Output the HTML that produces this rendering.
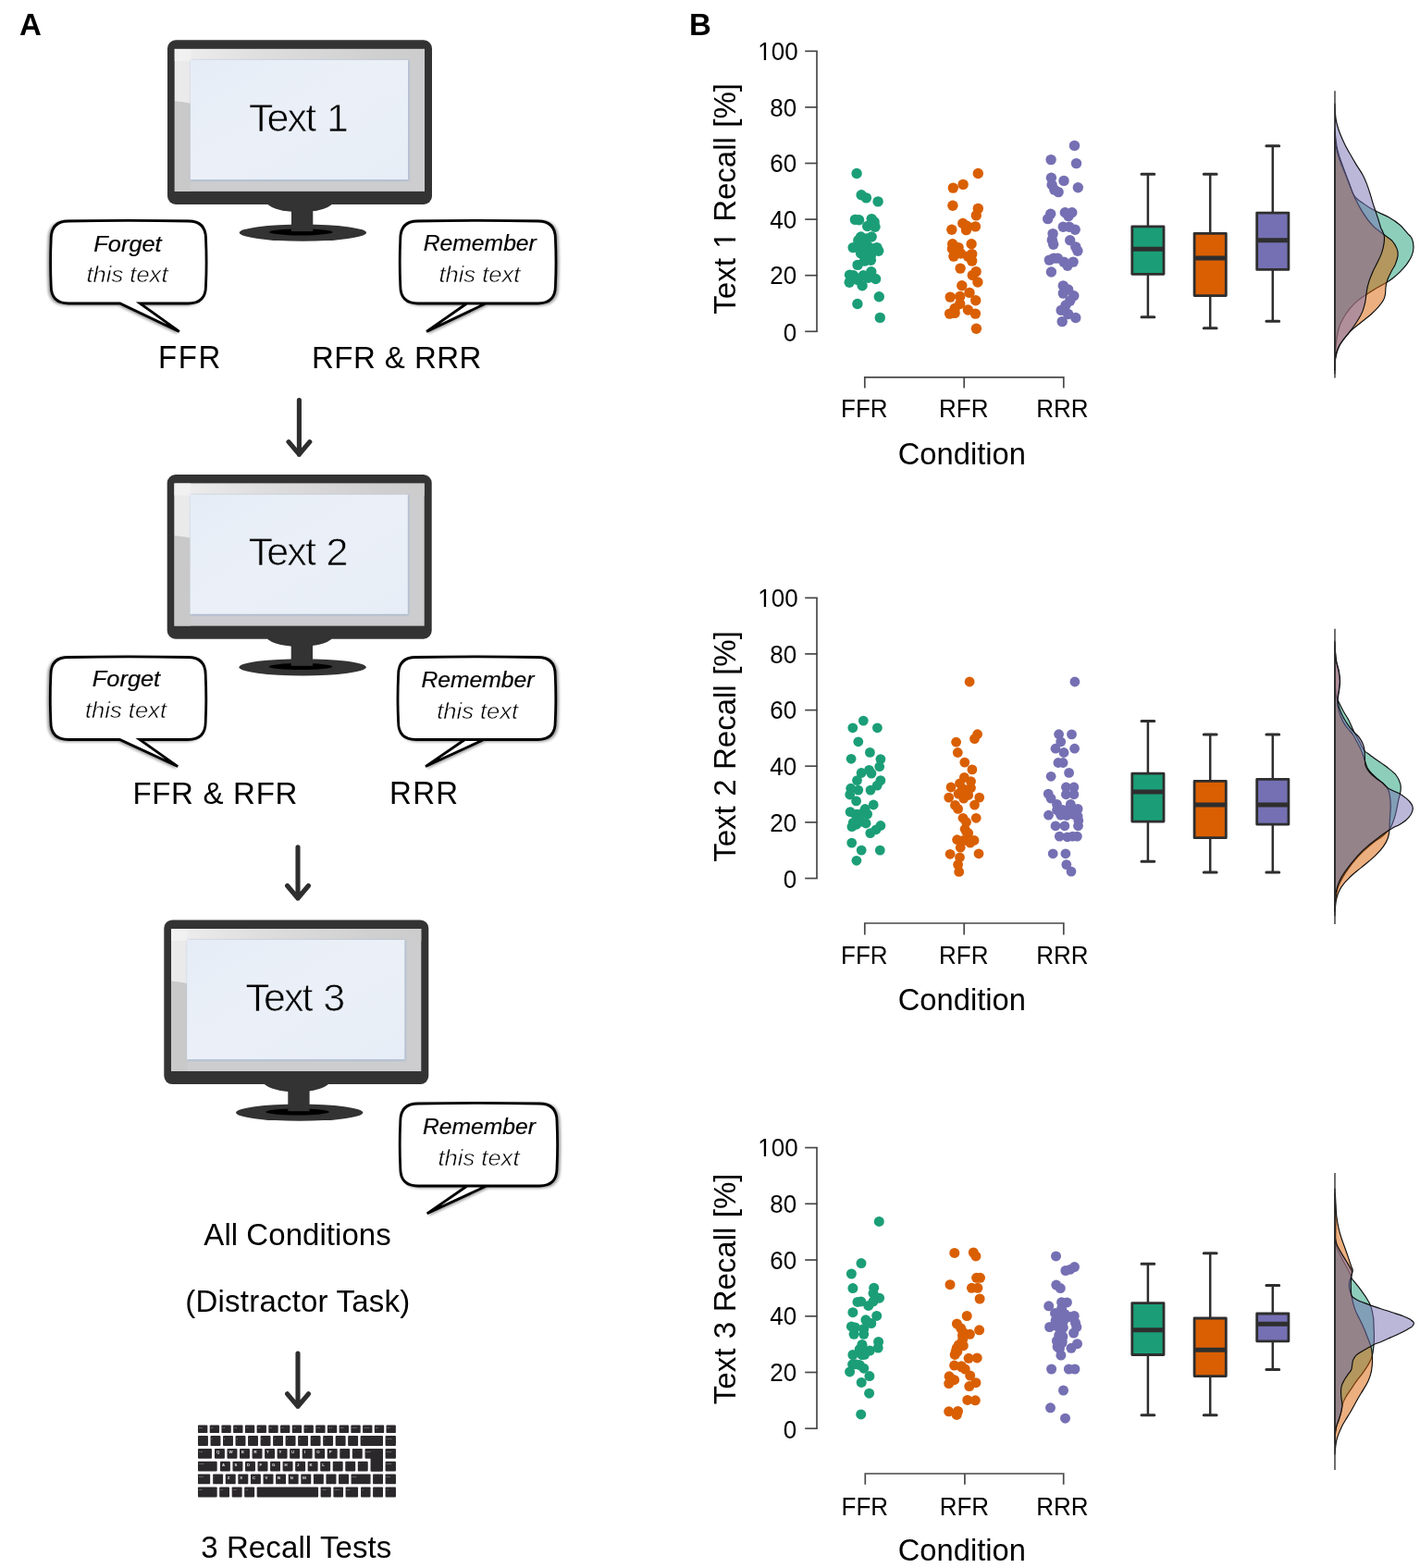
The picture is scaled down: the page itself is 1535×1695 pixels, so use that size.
<!DOCTYPE html>
<html lang="en"><head><meta charset="utf-8"><title>Figure</title>
<style>
html,body{margin:0;padding:0;background:#fff;width:1535px;height:1695px;overflow:hidden;}
svg{display:block;}
text{font-family:"Liberation Sans",sans-serif;fill:#000;font-kerning:none;}
.lt{font-size:33px;}
.tk{font-size:26px;}
.ax{stroke:#484848;stroke-width:1.7;fill:none;}
.bx{stroke:#333333;stroke-width:2.4;stroke-linejoin:round;}
.wh{stroke:#333333;stroke-width:2.4;fill:none;stroke-linecap:round;}
.md{stroke:#333333;stroke-width:5.2;fill:none;}
.dn{stroke:#0d0d0d;stroke-width:1.15;fill-opacity:0.5;stroke-linejoin:round;}
.bub{fill:#fff;stroke:#000;stroke-width:2.8;stroke-linejoin:miter;stroke-miterlimit:10;}
.bi{font-style:italic;font-size:24.5px;stroke:#fff;stroke-width:0.5px;}
.bb{font-style:italic;font-size:24.5px;stroke:#000;stroke-width:0.2px;}
.arrow{stroke:#2e2e2e;stroke-width:5.1;fill:none;stroke-linecap:round;stroke-linejoin:round;}
.key{fill:#2b282b;}
.kt{font-size:4.3px;font-weight:bold;fill:#e6e6e6;}
.ks{font-size:2.3px;fill:#d8d8d8;fill-opacity:0.75;}
</style></head><body>
<svg width="1535" height="1695" viewBox="0 0 1535 1695" role="img" aria-label="Experimental procedure and recall results">
<defs>
<linearGradient id="scr" x1="0" y1="0" x2="1" y2="0">
<stop offset="0" stop-color="#efefef"/><stop offset="0.35" stop-color="#dedede"/><stop offset="0.8" stop-color="#d0d0d1"/><stop offset="1" stop-color="#cccccd"/>
</linearGradient>
<linearGradient id="pap" x1="0" y1="0" x2="1" y2="1">
<stop offset="0" stop-color="#e6ecf6"/><stop offset="0.5" stop-color="#ebf0f8"/><stop offset="1" stop-color="#e7edf6"/>
</linearGradient>
<filter id="pb" x="-5%" y="-5%" width="110%" height="110%"><feGaussianBlur stdDeviation="0.9"/></filter>
<filter id="shL" x="-10%" y="-10%" width="120%" height="130%">
<feGaussianBlur in="SourceAlpha" stdDeviation="1.8"/><feOffset dx="-1.6" dy="1.4" result="b"/>
<feComponentTransfer><feFuncA type="linear" slope="0.4"/></feComponentTransfer>
<feMerge><feMergeNode/><feMergeNode in="SourceGraphic"/></feMerge>
</filter>
<filter id="shR" x="-10%" y="-10%" width="120%" height="130%">
<feGaussianBlur in="SourceAlpha" stdDeviation="1.8"/><feOffset dx="1.6" dy="1.4" result="b"/>
<feComponentTransfer><feFuncA type="linear" slope="0.4"/></feComponentTransfer>
<feMerge><feMergeNode/><feMergeNode in="SourceGraphic"/></feMerge>
</filter>
</defs>
<rect width="1535" height="1695" fill="#fff"/>

<text x="21.0" y="37.6" style="font-weight:bold;font-size:33px">A</text>
<text x="745.0" y="37.6" style="font-weight:bold;font-size:33px">B</text>
<g transform="translate(0,0)">
<ellipse cx="327.4" cy="251.6" rx="68.6" ry="9.1" fill="#333333"/>
<ellipse cx="325.3" cy="250.9" rx="34.3" ry="3.5" fill="#000"/>
<ellipse cx="324.1" cy="217" rx="36.5" ry="12.3" fill="#333333"/>
<rect x="315" y="221" width="23.3" height="29.1" fill="#333333"/>
<rect x="181" y="43.3" width="286" height="177.7" rx="9" ry="9" fill="#333333"/>
<rect x="188.8" y="52.9" width="270.2" height="154" fill="#cdcdcf"/>
<rect x="188.8" y="52.9" width="270.2" height="13" fill="url(#scr)"/>
<path d="M188.8 109.3 Q198 110.2 206.2 111.8 V206.9 H188.8 Z" fill="#c9c9ca"/>
<path d="M188.8 52.9 H206.2 V111.8 Q198 110.2 188.8 109.3 Z" fill="#f1f1f1" opacity="0.8"/>
<rect x="206.4" y="65.2" width="235.6" height="130" fill="#9fb4cf" filter="url(#pb)"/>
<rect x="205.8" y="64.9" width="235.3" height="129.2" fill="url(#pap)"/>
<text x="269.0" y="141.7" style="font-size:43px;font-kerning:normal;stroke:#e9eef7;stroke-width:0.75px;letter-spacing:-1.9px;word-spacing:2.6px">Text 1</text>
</g>
<g transform="translate(-0.3,469.7)">
<ellipse cx="327.4" cy="251.6" rx="68.6" ry="9.1" fill="#333333"/>
<ellipse cx="325.3" cy="250.9" rx="34.3" ry="3.5" fill="#000"/>
<ellipse cx="324.1" cy="217" rx="36.5" ry="12.3" fill="#333333"/>
<rect x="315" y="221" width="23.3" height="29.1" fill="#333333"/>
<rect x="181" y="43.3" width="286" height="177.7" rx="9" ry="9" fill="#333333"/>
<rect x="188.8" y="52.9" width="270.2" height="154" fill="#cdcdcf"/>
<rect x="188.8" y="52.9" width="270.2" height="13" fill="url(#scr)"/>
<path d="M188.8 109.3 Q198 110.2 206.2 111.8 V206.9 H188.8 Z" fill="#c9c9ca"/>
<path d="M188.8 52.9 H206.2 V111.8 Q198 110.2 188.8 109.3 Z" fill="#f1f1f1" opacity="0.8"/>
<rect x="206.4" y="65.2" width="235.6" height="130" fill="#9fb4cf" filter="url(#pb)"/>
<rect x="205.8" y="64.9" width="235.3" height="129.2" fill="url(#pap)"/>
<text x="269.0" y="141.7" style="font-size:43px;font-kerning:normal;stroke:#e9eef7;stroke-width:0.75px;letter-spacing:-1.9px;word-spacing:2.6px">Text 2</text>
</g>
<g transform="translate(-3.7,951.1)">
<ellipse cx="327.4" cy="251.6" rx="68.6" ry="9.1" fill="#333333"/>
<ellipse cx="325.3" cy="250.9" rx="34.3" ry="3.5" fill="#000"/>
<ellipse cx="324.1" cy="217" rx="36.5" ry="12.3" fill="#333333"/>
<rect x="315" y="221" width="23.3" height="29.1" fill="#333333"/>
<rect x="181" y="43.3" width="286" height="177.7" rx="9" ry="9" fill="#333333"/>
<rect x="188.8" y="52.9" width="270.2" height="154" fill="#cdcdcf"/>
<rect x="188.8" y="52.9" width="270.2" height="13" fill="url(#scr)"/>
<path d="M188.8 109.3 Q198 110.2 206.2 111.8 V206.9 H188.8 Z" fill="#c9c9ca"/>
<path d="M188.8 52.9 H206.2 V111.8 Q198 110.2 188.8 109.3 Z" fill="#f1f1f1" opacity="0.8"/>
<rect x="206.4" y="65.2" width="235.6" height="130" fill="#9fb4cf" filter="url(#pb)"/>
<rect x="205.8" y="64.9" width="235.3" height="129.2" fill="url(#pap)"/>
<text x="269.0" y="141.7" style="font-size:43px;font-kerning:normal;stroke:#e9eef7;stroke-width:0.75px;letter-spacing:-1.9px;word-spacing:2.6px">Text 3</text>
</g>
<path class="bub" filter="url(#shL)" d="M74.2 239 Q138.85 237.8 203.5 239 Q222.5 239 222.5 258 Q223.7 283.5 222.5 309 Q222.5 328 203.5 328 L151.2 328 L193.8 358.4 L129.7 328 L74.2 328 Q55.2 328 55.2 309 Q54.0 283.5 55.2 258 Q55.2 239 74.2 239 Z"/>
<text class="bb" x="138" y="271.8" text-anchor="middle" textLength="73.3" lengthAdjust="spacingAndGlyphs">Forget</text>
<text class="bi" x="137.5" y="305.4" text-anchor="middle" textLength="88" lengthAdjust="spacingAndGlyphs">this text</text>
<path class="bub" filter="url(#shR)" d="M451.8 239 Q516.6 237.8 581.4 239 Q600.4 239 600.4 258 Q601.6 283.5 600.4 309 Q600.4 328 581.4 328 L504.7 328 L461.1 358.4 L525.2 328 L451.8 328 Q432.8 328 432.8 309 Q431.6 283.5 432.8 258 Q432.8 239 451.8 239 Z"/>
<text class="bb" x="518.8" y="271.4" text-anchor="middle" textLength="122" lengthAdjust="spacingAndGlyphs">Remember</text>
<text class="bi" x="518.4" y="305.0" text-anchor="middle" textLength="88" lengthAdjust="spacingAndGlyphs">this text</text>
<path class="bub" filter="url(#shL)" d="M73.9 710.5 Q138.54999999999998 709.3 203.2 710.5 Q222.2 710.5 222.2 729.5 Q223.39999999999998 755.0 222.2 780.5 Q222.2 799.5 203.2 799.5 L150.9 799.5 L192.2 828.6 L129.4 799.5 L73.9 799.5 Q54.9 799.5 54.9 780.5 Q53.699999999999996 755.0 54.9 729.5 Q54.9 710.5 73.9 710.5 Z"/>
<text class="bb" x="136.5" y="742.3" text-anchor="middle" textLength="73.3" lengthAdjust="spacingAndGlyphs">Forget</text>
<text class="bi" x="136" y="775.9" text-anchor="middle" textLength="88" lengthAdjust="spacingAndGlyphs">this text</text>
<path class="bub" filter="url(#shR)" d="M449.6 710.5 Q515.4000000000001 709.3 581.2 710.5 Q600.2 710.5 600.2 729.5 Q601.4000000000001 755.0 600.2 780.5 Q600.2 799.5 581.2 799.5 L502.5 799.5 L460 828.6 L523 799.5 L449.6 799.5 Q430.6 799.5 430.6 780.5 Q429.40000000000003 755.0 430.6 729.5 Q430.6 710.5 449.6 710.5 Z"/>
<text class="bb" x="516.5" y="742.9" text-anchor="middle" textLength="122" lengthAdjust="spacingAndGlyphs">Remember</text>
<text class="bi" x="516.2" y="776.5" text-anchor="middle" textLength="88" lengthAdjust="spacingAndGlyphs">this text</text>
<path class="bub" filter="url(#shR)" d="M451.8 1193 Q517.4 1191.8 583 1193 Q602 1193 602 1212 Q603.2 1237.5 602 1263 Q602 1282 583 1282 L505 1282 L461.7 1311.8 L526 1282 L451.8 1282 Q432.8 1282 432.8 1263 Q431.6 1237.5 432.8 1212 Q432.8 1193 451.8 1193 Z"/>
<text class="bb" x="518" y="1226" text-anchor="middle" textLength="122" lengthAdjust="spacingAndGlyphs">Remember</text>
<text class="bi" x="517.5" y="1259.5" text-anchor="middle" textLength="88" lengthAdjust="spacingAndGlyphs">this text</text>
<text class="lt" transform="translate(171.09,397.8) scale(1,1.04)" style="font-kerning:normal;letter-spacing:1.508px">FFR</text>
<text class="lt" x="337.09" y="397.8" style="font-kerning:normal;letter-spacing:0.451px">RFR &amp; RRR</text>
<text class="lt" x="143.41" y="869.3" style="font-kerning:normal;letter-spacing:0.701px">FFR &amp; RFR</text>
<text class="lt" transform="translate(421.09,869.3) scale(1,1.04)" style="font-kerning:normal;letter-spacing:1.253px">RRR</text>
<text class="lt" x="220.33" y="1346.4" style="font-kerning:normal;letter-spacing:0.050px">All Conditions</text>
<text class="lt" x="200.33" y="1417.8" style="font-kerning:normal;letter-spacing:0.209px">(Distractor Task)</text>
<text class="lt" x="217.21" y="1683.8" style="font-kerning:normal;letter-spacing:0.103px">3 Recall Tests</text>
<path class="arrow" d="M323.4 432.6 V491.2 M312.0 477.7 L323.4 491.2 L334.79999999999995 477.7"/>
<path class="arrow" d="M322 915.6999999999999 V971 M310.6 957.5 L322 971 L333.4 957.5"/>
<path class="arrow" d="M322 1463.1 V1520.3 M310.6 1506.8 L322 1520.3 L333.4 1506.8"/>
<g class="key"><rect x="213.99" y="1540.49" width="10.34" height="8.54" rx="0.9"/><rect x="226.71" y="1540.49" width="10.34" height="8.54" rx="0.9"/><rect x="239.43" y="1540.49" width="10.34" height="8.54" rx="0.9"/><rect x="252.15" y="1540.49" width="10.34" height="8.54" rx="0.9"/><rect x="264.87" y="1540.49" width="10.34" height="8.54" rx="0.9"/><rect x="277.60" y="1540.49" width="10.34" height="8.54" rx="0.9"/><rect x="290.32" y="1540.49" width="10.34" height="8.54" rx="0.9"/><rect x="303.04" y="1540.49" width="10.34" height="8.54" rx="0.9"/><rect x="315.76" y="1540.49" width="10.34" height="8.54" rx="0.9"/><rect x="328.48" y="1540.49" width="10.34" height="8.54" rx="0.9"/><rect x="341.20" y="1540.49" width="10.34" height="8.54" rx="0.9"/><rect x="353.92" y="1540.49" width="10.34" height="8.54" rx="0.9"/><rect x="366.64" y="1540.49" width="10.34" height="8.54" rx="0.9"/><rect x="379.36" y="1540.49" width="10.34" height="8.54" rx="0.9"/><rect x="392.08" y="1540.49" width="10.34" height="8.54" rx="0.9"/><rect x="404.81" y="1540.49" width="10.34" height="8.54" rx="0.9"/><rect x="417.53" y="1540.49" width="10.34" height="8.54" rx="0.9"/><rect x="213.99" y="1552.03" width="10.94" height="10.94" rx="0.9"/><rect x="227.51" y="1552.03" width="10.94" height="10.94" rx="0.9"/><rect x="241.02" y="1552.03" width="10.94" height="10.94" rx="0.9"/><rect x="254.54" y="1552.03" width="10.94" height="10.94" rx="0.9"/><rect x="268.05" y="1552.03" width="10.94" height="10.94" rx="0.9"/><rect x="281.57" y="1552.03" width="10.94" height="10.94" rx="0.9"/><rect x="295.08" y="1552.03" width="10.94" height="10.94" rx="0.9"/><rect x="308.60" y="1552.03" width="10.94" height="10.94" rx="0.9"/><rect x="322.11" y="1552.03" width="10.94" height="10.94" rx="0.9"/><rect x="335.63" y="1552.03" width="10.94" height="10.94" rx="0.9"/><rect x="349.14" y="1552.03" width="10.94" height="10.94" rx="0.9"/><rect x="362.66" y="1552.03" width="10.94" height="10.94" rx="0.9"/><rect x="376.17" y="1552.03" width="10.94" height="10.94" rx="0.9"/><rect x="389.60" y="1552.03" width="24.42" height="10.94" rx="0.9"/><rect x="416.57" y="1552.03" width="11.39" height="10.94" rx="0.9"/><rect x="213.99" y="1565.96" width="14.98" height="10.79" rx="0.9"/><rect x="231.97" y="1565.96" width="10.94" height="10.79" rx="0.9"/><rect x="245.50" y="1565.96" width="10.94" height="10.79" rx="0.9"/><rect x="259.03" y="1565.96" width="10.94" height="10.79" rx="0.9"/><rect x="272.56" y="1565.96" width="10.94" height="10.79" rx="0.9"/><rect x="286.09" y="1565.96" width="10.94" height="10.79" rx="0.9"/><rect x="299.62" y="1565.96" width="10.94" height="10.79" rx="0.9"/><rect x="313.15" y="1565.96" width="10.94" height="10.79" rx="0.9"/><rect x="326.68" y="1565.96" width="10.94" height="10.79" rx="0.9"/><rect x="340.21" y="1565.96" width="10.94" height="10.79" rx="0.9"/><rect x="353.74" y="1565.96" width="10.94" height="10.79" rx="0.9"/><rect x="367.27" y="1565.96" width="10.94" height="10.79" rx="0.9"/><rect x="380.80" y="1565.96" width="10.94" height="10.79" rx="0.9"/><rect x="394.54" y="1565.96" width="19.48" height="10.79" rx="0.9"/><rect x="400.53" y="1574.95" width="13.49" height="15.73" rx="0.9"/><rect x="416.57" y="1565.96" width="11.39" height="10.79" rx="0.9"/><rect x="213.99" y="1579.75" width="20.68" height="10.64" rx="0.9"/><rect x="237.96" y="1579.75" width="10.94" height="10.64" rx="0.9"/><rect x="251.49" y="1579.75" width="10.94" height="10.64" rx="0.9"/><rect x="265.02" y="1579.75" width="10.94" height="10.64" rx="0.9"/><rect x="278.55" y="1579.75" width="10.94" height="10.64" rx="0.9"/><rect x="292.08" y="1579.75" width="10.94" height="10.64" rx="0.9"/><rect x="305.61" y="1579.75" width="10.94" height="10.64" rx="0.9"/><rect x="319.14" y="1579.75" width="10.94" height="10.64" rx="0.9"/><rect x="332.67" y="1579.75" width="10.94" height="10.64" rx="0.9"/><rect x="346.20" y="1579.75" width="10.94" height="10.64" rx="0.9"/><rect x="359.73" y="1579.75" width="10.94" height="10.64" rx="0.9"/><rect x="373.26" y="1579.75" width="10.94" height="10.64" rx="0.9"/><rect x="386.80" y="1579.75" width="10.94" height="10.64" rx="0.9"/><rect x="416.57" y="1579.75" width="11.39" height="10.64" rx="0.9"/><rect x="213.99" y="1593.38" width="13.19" height="10.94" rx="0.9"/><rect x="230.17" y="1593.38" width="10.94" height="10.94" rx="0.9"/><rect x="243.76" y="1593.38" width="10.94" height="10.94" rx="0.9"/><rect x="257.35" y="1593.38" width="10.94" height="10.94" rx="0.9"/><rect x="270.94" y="1593.38" width="10.94" height="10.94" rx="0.9"/><rect x="284.53" y="1593.38" width="10.94" height="10.94" rx="0.9"/><rect x="298.12" y="1593.38" width="10.94" height="10.94" rx="0.9"/><rect x="311.71" y="1593.38" width="10.94" height="10.94" rx="0.9"/><rect x="325.30" y="1593.38" width="10.94" height="10.94" rx="0.9"/><rect x="338.89" y="1593.38" width="10.94" height="10.94" rx="0.9"/><rect x="352.48" y="1593.38" width="10.94" height="10.94" rx="0.9"/><rect x="366.07" y="1593.38" width="10.94" height="10.94" rx="0.9"/><rect x="379.56" y="1593.38" width="20.98" height="10.94" rx="0.9"/><rect x="403.08" y="1593.38" width="10.94" height="10.94" rx="0.9"/><rect x="416.57" y="1593.38" width="11.39" height="10.94" rx="0.9"/><rect x="213.99" y="1607.46" width="20.68" height="10.94" rx="0.9"/><rect x="237.21" y="1607.46" width="10.79" height="10.94" rx="0.9"/><rect x="250.70" y="1607.46" width="10.94" height="10.94" rx="0.9"/><rect x="264.18" y="1607.46" width="10.94" height="10.94" rx="0.9"/><rect x="277.67" y="1607.46" width="66.38" height="10.94" rx="0.9"/><rect x="346.59" y="1607.46" width="11.24" height="10.94" rx="0.9"/><rect x="360.38" y="1607.46" width="10.64" height="10.94" rx="0.9"/><rect x="373.56" y="1607.46" width="13.49" height="10.94" rx="0.9"/><rect x="390.05" y="1607.46" width="10.49" height="10.94" rx="0.9"/><rect x="403.08" y="1607.46" width="10.94" height="10.94" rx="0.9"/><rect x="416.57" y="1607.46" width="11.39" height="10.94" rx="0.9"/></g>
<g><text class="ks" x="215.04" y="1544.08">Esc</text><text class="ks" x="227.76" y="1544.08">F1</text><text class="ks" x="240.48" y="1544.08">F2</text><text class="ks" x="253.20" y="1544.08">F3</text><text class="ks" x="265.92" y="1544.08">F4</text><text class="ks" x="278.64" y="1544.08">F5</text><text class="ks" x="291.36" y="1544.08">F6</text><text class="ks" x="304.09" y="1544.08">F7</text><text class="ks" x="316.81" y="1544.08">F8</text><text class="ks" x="329.53" y="1544.08">F9</text><text class="ks" x="342.25" y="1544.08">F10</text><text class="ks" x="354.97" y="1544.08">F11</text><text class="ks" x="367.69" y="1544.08">F12</text><text class="ks" x="380.41" y="1544.08">PrtSc</text><text class="ks" x="393.13" y="1544.08">Pause</text><text class="ks" x="405.85" y="1544.08">Ins</text><text class="ks" x="418.58" y="1544.08">Del</text><text class="ks" x="215.04" y="1555.62">`</text><text class="ks" x="228.55" y="1555.62">1</text><text class="ks" x="242.07" y="1555.62">2</text><text class="ks" x="255.58" y="1555.62">3</text><text class="ks" x="269.10" y="1555.62">4</text><text class="ks" x="282.61" y="1555.62">5</text><text class="ks" x="296.13" y="1555.62">6</text><text class="ks" x="309.64" y="1555.62">7</text><text class="ks" x="323.16" y="1555.62">8</text><text class="ks" x="336.68" y="1555.62">9</text><text class="ks" x="350.19" y="1555.62">0</text><text class="ks" x="363.71" y="1555.62">-</text><text class="ks" x="377.22" y="1555.62">=</text><text class="ks" x="390.65" y="1555.62">←</text><text class="ks" x="417.62" y="1555.62">Home</text><text class="ks" x="215.04" y="1569.56">Tab</text><text class="kt" x="233.92" y="1571.35">Q</text><text class="kt" x="247.45" y="1571.35">W</text><text class="kt" x="260.98" y="1571.35">E</text><text class="kt" x="274.51" y="1571.35">R</text><text class="kt" x="288.04" y="1571.35">T</text><text class="kt" x="301.57" y="1571.35">Y</text><text class="kt" x="315.10" y="1571.35">U</text><text class="kt" x="328.63" y="1571.35">I</text><text class="kt" x="342.16" y="1571.35">O</text><text class="kt" x="355.69" y="1571.35">P</text><text class="ks" x="368.32" y="1569.56">[</text><text class="ks" x="381.85" y="1569.56">]</text><text class="ks" x="395.59" y="1569.56">Enter</text><text class="ks" x="417.62" y="1569.56">PgUp</text><text class="ks" x="215.04" y="1583.34">Caps</text><text class="kt" x="239.91" y="1585.14">A</text><text class="kt" x="253.44" y="1585.14">S</text><text class="kt" x="266.97" y="1585.14">D</text><text class="kt" x="280.50" y="1585.14">F</text><text class="kt" x="294.03" y="1585.14">G</text><text class="kt" x="307.56" y="1585.14">H</text><text class="kt" x="321.09" y="1585.14">J</text><text class="kt" x="334.62" y="1585.14">K</text><text class="kt" x="348.15" y="1585.14">L</text><text class="ks" x="360.78" y="1583.34">;</text><text class="ks" x="374.31" y="1583.34">'</text><text class="ks" x="387.84" y="1583.34">#</text><text class="ks" x="417.62" y="1583.34">PgDn</text><text class="ks" x="215.04" y="1596.98">Shift</text><text class="ks" x="231.22" y="1596.98">\</text><text class="kt" x="245.71" y="1598.77">Z</text><text class="kt" x="259.30" y="1598.77">X</text><text class="kt" x="272.89" y="1598.77">C</text><text class="kt" x="286.48" y="1598.77">V</text><text class="kt" x="300.07" y="1598.77">B</text><text class="kt" x="313.66" y="1598.77">N</text><text class="kt" x="327.25" y="1598.77">M</text><text class="ks" x="339.94" y="1596.98">,</text><text class="ks" x="353.53" y="1596.98">.</text><text class="ks" x="367.12" y="1596.98">/</text><text class="ks" x="380.61" y="1596.98">Shift</text><text class="ks" x="404.13" y="1596.98">↑</text><text class="ks" x="417.62" y="1596.98">End</text><text class="ks" x="215.04" y="1611.06">Ctrl</text><text class="ks" x="238.26" y="1611.06">Fn</text><text class="ks" x="251.75" y="1611.06">Win</text><text class="ks" x="265.23" y="1611.06">Alt</text><text class="ks" x="347.64" y="1611.06">AltGr</text><text class="ks" x="361.43" y="1611.06">Menu</text><text class="ks" x="374.61" y="1611.06">Ctrl</text><text class="ks" x="391.10" y="1611.06">←</text><text class="ks" x="404.13" y="1611.06">↓</text><text class="ks" x="417.62" y="1611.06">→</text></g>
<path class="ax" d="M883.0 55.3 V358.3"/>
<path class="ax" d="M870.2 358.3 H883.8"/>
<text class="tk" transform="translate(861.1,368.80) scale(1,1.045)" text-anchor="end">0</text>
<path class="ax" d="M870.2 297.7 H883.8"/>
<text class="tk" transform="translate(861.1,307.40) scale(1,1.045)" text-anchor="end">20</text>
<path class="ax" d="M870.2 237.1 H883.8"/>
<text class="tk" transform="translate(861.1,246.80) scale(1,1.045)" text-anchor="end">40</text>
<path class="ax" d="M870.2 176.5 H883.8"/>
<text class="tk" transform="translate(861.1,186.20) scale(1,1.045)" text-anchor="end">60</text>
<path class="ax" d="M870.2 115.9 H883.8"/>
<text class="tk" transform="translate(861.1,125.60) scale(1,1.045)" text-anchor="end">80</text>
<path class="ax" d="M870.2 55.3 H883.8"/>
<text class="tk" transform="translate(862.7,64.55) scale(1,1.045)" text-anchor="end">100</text>
<text class="lt" transform="translate(794.7,214.8) rotate(-90)" text-anchor="middle" style="font-kerning:normal;word-spacing:1.3px">Text 1 Recall [%]</text>
<path class="ax" d="M934.8 419.5 V407.8 H1149.8 V419.5 M1042.2 407.8 V419.5"/>
<text class="tk" transform="translate(934.30,451.40000000000003) scale(1,1.04)" text-anchor="middle">FFR</text>
<text class="tk" transform="translate(1041.70,451.40000000000003) scale(1,1.04)" text-anchor="middle">RFR</text>
<text class="tk" transform="translate(1148.40,451.40000000000003) scale(1,1.04)" text-anchor="middle">RRR</text>
<text class="lt" x="1039.8" y="501.6" text-anchor="middle" style="font-size:32.7px">Condition</text>
<path class="ax" d="M883.0 646.3 V949.5"/>
<path class="ax" d="M870.2 949.5 H883.8"/>
<text class="tk" transform="translate(861.1,960.00) scale(1,1.045)" text-anchor="end">0</text>
<path class="ax" d="M870.2 888.9 H883.8"/>
<text class="tk" transform="translate(861.1,898.56) scale(1,1.045)" text-anchor="end">20</text>
<path class="ax" d="M870.2 828.2 H883.8"/>
<text class="tk" transform="translate(861.1,837.92) scale(1,1.045)" text-anchor="end">40</text>
<path class="ax" d="M870.2 767.6 H883.8"/>
<text class="tk" transform="translate(861.1,777.28) scale(1,1.045)" text-anchor="end">60</text>
<path class="ax" d="M870.2 706.9 H883.8"/>
<text class="tk" transform="translate(861.1,716.64) scale(1,1.045)" text-anchor="end">80</text>
<path class="ax" d="M870.2 646.3 H883.8"/>
<text class="tk" transform="translate(862.7,655.55) scale(1,1.045)" text-anchor="end">100</text>
<text class="lt" transform="translate(794.7,807) rotate(-90)" text-anchor="middle" style="font-kerning:normal;word-spacing:1.3px">Text 2 Recall [%]</text>
<path class="ax" d="M934.8 1010.6 V998.0 H1149.8 V1010.6 M1042.2 998.0 V1010.6"/>
<text class="tk" transform="translate(934.30,1042.1) scale(1,1.04)" text-anchor="middle">FFR</text>
<text class="tk" transform="translate(1041.70,1042.1) scale(1,1.04)" text-anchor="middle">RFR</text>
<text class="tk" transform="translate(1148.40,1042.1) scale(1,1.04)" text-anchor="middle">RRR</text>
<text class="lt" x="1039.8" y="1091.7" text-anchor="middle" style="font-size:32.7px">Condition</text>
<path class="ax" d="M883.0 1240.6 V1544.2"/>
<path class="ax" d="M870.2 1544.2 H883.8"/>
<text class="tk" transform="translate(861.1,1554.70) scale(1,1.045)" text-anchor="end">0</text>
<path class="ax" d="M870.2 1483.5 H883.8"/>
<text class="tk" transform="translate(861.1,1493.18) scale(1,1.045)" text-anchor="end">20</text>
<path class="ax" d="M870.2 1422.8 H883.8"/>
<text class="tk" transform="translate(861.1,1432.46) scale(1,1.045)" text-anchor="end">40</text>
<path class="ax" d="M870.2 1362.0 H883.8"/>
<text class="tk" transform="translate(861.1,1371.74) scale(1,1.045)" text-anchor="end">60</text>
<path class="ax" d="M870.2 1301.3 H883.8"/>
<text class="tk" transform="translate(861.1,1311.02) scale(1,1.045)" text-anchor="end">80</text>
<path class="ax" d="M870.2 1240.6 H883.8"/>
<text class="tk" transform="translate(862.7,1249.85) scale(1,1.045)" text-anchor="end">100</text>
<text class="lt" transform="translate(794.7,1393.3) rotate(-90)" text-anchor="middle" style="font-kerning:normal;word-spacing:1.3px">Text 3 Recall [%]</text>
<path class="ax" d="M935.3 1604.7 V1593.0 H1149.7 V1604.7 M1042.9 1593.0 V1604.7"/>
<text class="tk" transform="translate(934.80,1637.6) scale(1,1.04)" text-anchor="middle">FFR</text>
<text class="tk" transform="translate(1042.40,1637.6) scale(1,1.04)" text-anchor="middle">RFR</text>
<text class="tk" transform="translate(1148.30,1637.6) scale(1,1.04)" text-anchor="middle">RRR</text>
<text class="lt" x="1039.8" y="1686.9" text-anchor="middle" style="font-size:32.7px">Condition</text>
<g fill="#1b9e77">
<circle cx="926.1" cy="187.5" r="5.7"/>
<circle cx="931.1" cy="210.8" r="5.7"/>
<circle cx="936.4" cy="213.9" r="5.7"/>
<circle cx="949.1" cy="217.9" r="5.7"/>
<circle cx="924.4" cy="237.4" r="5.7"/>
<circle cx="928.6" cy="237.8" r="5.7"/>
<circle cx="942.2" cy="236.6" r="5.7"/>
<circle cx="945.1" cy="239.9" r="5.7"/>
<circle cx="937.7" cy="244.5" r="5.7"/>
<circle cx="946.0" cy="245.3" r="5.7"/>
<circle cx="930.6" cy="256.0" r="5.7"/>
<circle cx="942.2" cy="256.0" r="5.7"/>
<circle cx="927.8" cy="259.8" r="5.7"/>
<circle cx="937.0" cy="257.9" r="5.7"/>
<circle cx="922.2" cy="267.6" r="5.7"/>
<circle cx="932.1" cy="266.8" r="5.7"/>
<circle cx="947.9" cy="267.6" r="5.7"/>
<circle cx="949.7" cy="271.2" r="5.7"/>
<circle cx="930.6" cy="274.0" r="5.7"/>
<circle cx="936.1" cy="276.7" r="5.7"/>
<circle cx="941.4" cy="281.2" r="5.7"/>
<circle cx="927.1" cy="286.4" r="5.7"/>
<circle cx="934.6" cy="282.1" r="5.7"/>
<circle cx="941.8" cy="293.8" r="5.7"/>
<circle cx="918.5" cy="297.3" r="5.7"/>
<circle cx="922.5" cy="297.8" r="5.7"/>
<circle cx="933.3" cy="297.8" r="5.7"/>
<circle cx="938.5" cy="300.3" r="5.7"/>
<circle cx="946.6" cy="301.5" r="5.7"/>
<circle cx="918.2" cy="305.2" r="5.7"/>
<circle cx="932.1" cy="308.7" r="5.7"/>
<circle cx="927.1" cy="302.5" r="5.7"/>
<circle cx="950.3" cy="320.7" r="5.7"/>
<circle cx="926.9" cy="328.5" r="5.7"/>
<circle cx="951.3" cy="343.4" r="5.7"/>
<circle cx="939.4" cy="267.2" r="5.7"/>
<circle cx="941.5" cy="275.5" r="5.7"/>
<circle cx="934.6" cy="262.0" r="5.7"/>
</g>
<g fill="#d95f02">
<circle cx="1057.3" cy="187.5" r="5.7"/>
<circle cx="1041.1" cy="199.4" r="5.7"/>
<circle cx="1030.3" cy="203.1" r="5.7"/>
<circle cx="1029.9" cy="222.2" r="5.7"/>
<circle cx="1057.3" cy="225.4" r="5.7"/>
<circle cx="1055.3" cy="232.9" r="5.7"/>
<circle cx="1040.8" cy="241.5" r="5.7"/>
<circle cx="1045.1" cy="244.3" r="5.7"/>
<circle cx="1054.4" cy="244.9" r="5.7"/>
<circle cx="1028.8" cy="248.2" r="5.7"/>
<circle cx="1044.5" cy="248.6" r="5.7"/>
<circle cx="1050.1" cy="263.8" r="5.7"/>
<circle cx="1029.7" cy="263.8" r="5.7"/>
<circle cx="1036.1" cy="267.6" r="5.7"/>
<circle cx="1029.4" cy="269.0" r="5.7"/>
<circle cx="1050.7" cy="274.6" r="5.7"/>
<circle cx="1030.9" cy="277.1" r="5.7"/>
<circle cx="1038.6" cy="274.0" r="5.7"/>
<circle cx="1046.4" cy="277.1" r="5.7"/>
<circle cx="1050.7" cy="282.1" r="5.7"/>
<circle cx="1038.1" cy="290.1" r="5.7"/>
<circle cx="1055.1" cy="293.6" r="5.7"/>
<circle cx="1051.3" cy="297.5" r="5.7"/>
<circle cx="1056.9" cy="305.0" r="5.7"/>
<circle cx="1039.8" cy="308.7" r="5.7"/>
<circle cx="1048.0" cy="316.4" r="5.7"/>
<circle cx="1027.2" cy="321.1" r="5.7"/>
<circle cx="1037.7" cy="320.5" r="5.7"/>
<circle cx="1054.7" cy="324.8" r="5.7"/>
<circle cx="1037.7" cy="328.5" r="5.7"/>
<circle cx="1032.1" cy="333.5" r="5.7"/>
<circle cx="1046.4" cy="335.0" r="5.7"/>
<circle cx="1026.6" cy="339.1" r="5.7"/>
<circle cx="1032.1" cy="338.4" r="5.7"/>
<circle cx="1054.4" cy="339.1" r="5.7"/>
<circle cx="1055.4" cy="355.2" r="5.7"/>
</g>
<g fill="#7570b3">
<circle cx="1161.5" cy="157.4" r="5.7"/>
<circle cx="1136.1" cy="172.6" r="5.7"/>
<circle cx="1163.5" cy="176.6" r="5.7"/>
<circle cx="1136.4" cy="192.2" r="5.7"/>
<circle cx="1150.0" cy="195.4" r="5.7"/>
<circle cx="1137.1" cy="199.7" r="5.7"/>
<circle cx="1165.3" cy="202.7" r="5.7"/>
<circle cx="1139.8" cy="205.1" r="5.7"/>
<circle cx="1144.1" cy="207.6" r="5.7"/>
<circle cx="1135.7" cy="231.2" r="5.7"/>
<circle cx="1132.7" cy="236.6" r="5.7"/>
<circle cx="1151.3" cy="229.8" r="5.7"/>
<circle cx="1158.8" cy="229.8" r="5.7"/>
<circle cx="1155.0" cy="233.6" r="5.7"/>
<circle cx="1149.3" cy="245.2" r="5.7"/>
<circle cx="1155.8" cy="245.2" r="5.7"/>
<circle cx="1162.2" cy="248.3" r="5.7"/>
<circle cx="1138.1" cy="252.6" r="5.7"/>
<circle cx="1137.3" cy="259.4" r="5.7"/>
<circle cx="1156.7" cy="259.7" r="5.7"/>
<circle cx="1138.7" cy="264.2" r="5.7"/>
<circle cx="1162.8" cy="266.9" r="5.7"/>
<circle cx="1164.9" cy="271.3" r="5.7"/>
<circle cx="1134.3" cy="281.1" r="5.7"/>
<circle cx="1139.1" cy="279.1" r="5.7"/>
<circle cx="1143.2" cy="279.1" r="5.7"/>
<circle cx="1150.0" cy="283.1" r="5.7"/>
<circle cx="1160.1" cy="283.1" r="5.7"/>
<circle cx="1154.0" cy="287.2" r="5.7"/>
<circle cx="1136.4" cy="294.0" r="5.7"/>
<circle cx="1149.3" cy="308.9" r="5.7"/>
<circle cx="1154.7" cy="313.0" r="5.7"/>
<circle cx="1149.3" cy="317.1" r="5.7"/>
<circle cx="1160.8" cy="319.8" r="5.7"/>
<circle cx="1156.7" cy="325.2" r="5.7"/>
<circle cx="1152.0" cy="330.0" r="5.7"/>
<circle cx="1147.2" cy="335.4" r="5.7"/>
<circle cx="1154.7" cy="339.5" r="5.7"/>
<circle cx="1162.8" cy="343.5" r="5.7"/>
<circle cx="1148.2" cy="347.6" r="5.7"/>
</g>
<g fill="#1b9e77">
<circle cx="933.3" cy="779.1" r="5.4"/>
<circle cx="921.8" cy="786.8" r="5.4"/>
<circle cx="948.4" cy="786.8" r="5.4"/>
<circle cx="927.8" cy="801.8" r="5.4"/>
<circle cx="940.4" cy="813.4" r="5.4"/>
<circle cx="920.1" cy="820.3" r="5.4"/>
<circle cx="951.9" cy="820.6" r="5.4"/>
<circle cx="950.7" cy="828.7" r="5.4"/>
<circle cx="939.5" cy="832.4" r="5.4"/>
<circle cx="931.1" cy="835.5" r="5.4"/>
<circle cx="942.0" cy="836.1" r="5.4"/>
<circle cx="926.5" cy="843.6" r="5.4"/>
<circle cx="951.9" cy="843.6" r="5.4"/>
<circle cx="948.2" cy="849.1" r="5.4"/>
<circle cx="919.7" cy="852.2" r="5.4"/>
<circle cx="927.8" cy="854.1" r="5.4"/>
<circle cx="941.0" cy="854.1" r="5.4"/>
<circle cx="918.7" cy="859.0" r="5.4"/>
<circle cx="925.6" cy="865.9" r="5.4"/>
<circle cx="944.2" cy="870.0" r="5.4"/>
<circle cx="935.2" cy="874.5" r="5.4"/>
<circle cx="919.1" cy="877.6" r="5.4"/>
<circle cx="926.5" cy="880.1" r="5.4"/>
<circle cx="937.7" cy="880.1" r="5.4"/>
<circle cx="930.8" cy="888.2" r="5.4"/>
<circle cx="922.2" cy="889.4" r="5.4"/>
<circle cx="925.9" cy="891.3" r="5.4"/>
<circle cx="936.1" cy="890.0" r="5.4"/>
<circle cx="920.9" cy="893.7" r="5.4"/>
<circle cx="951.9" cy="892.5" r="5.4"/>
<circle cx="947.0" cy="896.8" r="5.4"/>
<circle cx="940.8" cy="900.6" r="5.4"/>
<circle cx="920.7" cy="911.1" r="5.4"/>
<circle cx="931.2" cy="919.1" r="5.4"/>
<circle cx="951.3" cy="919.1" r="5.4"/>
<circle cx="925.9" cy="930.3" r="5.4"/>
<circle cx="924.8" cy="880.5" r="5.4"/>
<circle cx="933.2" cy="878.4" r="5.4"/>
<circle cx="929.0" cy="886.8" r="5.4"/>
</g>
<g fill="#d95f02">
<circle cx="1048.1" cy="737.0" r="5.4"/>
<circle cx="1056.6" cy="793.7" r="5.4"/>
<circle cx="1053.5" cy="798.6" r="5.4"/>
<circle cx="1033.6" cy="802.2" r="5.4"/>
<circle cx="1035.3" cy="813.5" r="5.4"/>
<circle cx="1042.8" cy="824.1" r="5.4"/>
<circle cx="1050.9" cy="831.9" r="5.4"/>
<circle cx="1042.4" cy="840.4" r="5.4"/>
<circle cx="1049.5" cy="844.6" r="5.4"/>
<circle cx="1037.5" cy="846.8" r="5.4"/>
<circle cx="1028.0" cy="851.0" r="5.4"/>
<circle cx="1049.5" cy="851.7" r="5.4"/>
<circle cx="1039.6" cy="854.6" r="5.4"/>
<circle cx="1036.0" cy="858.1" r="5.4"/>
<circle cx="1046.7" cy="859.5" r="5.4"/>
<circle cx="1025.7" cy="862.1" r="5.4"/>
<circle cx="1058.7" cy="862.1" r="5.4"/>
<circle cx="1041.7" cy="863.1" r="5.4"/>
<circle cx="1032.5" cy="870.4" r="5.4"/>
<circle cx="1053.5" cy="870.1" r="5.4"/>
<circle cx="1035.6" cy="874.4" r="5.4"/>
<circle cx="1041.0" cy="884.3" r="5.4"/>
<circle cx="1055.2" cy="884.3" r="5.4"/>
<circle cx="1044.5" cy="888.6" r="5.4"/>
<circle cx="1043.1" cy="896.3" r="5.4"/>
<circle cx="1046.7" cy="900.6" r="5.4"/>
<circle cx="1034.6" cy="907.7" r="5.4"/>
<circle cx="1043.1" cy="908.4" r="5.4"/>
<circle cx="1053.0" cy="908.4" r="5.4"/>
<circle cx="1048.8" cy="911.2" r="5.4"/>
<circle cx="1038.2" cy="916.2" r="5.4"/>
<circle cx="1027.1" cy="923.3" r="5.4"/>
<circle cx="1058.0" cy="922.8" r="5.4"/>
<circle cx="1037.5" cy="926.8" r="5.4"/>
<circle cx="1035.6" cy="934.6" r="5.4"/>
<circle cx="1036.7" cy="942.4" r="5.4"/>
<circle cx="1042.6" cy="853.4" r="5.4"/>
<circle cx="1044.7" cy="899.3" r="5.4"/>
<circle cx="1040.5" cy="908.7" r="5.4"/>
</g>
<g fill="#7570b3">
<circle cx="1161.9" cy="737.0" r="5.4"/>
<circle cx="1144.6" cy="793.7" r="5.4"/>
<circle cx="1158.5" cy="793.9" r="5.4"/>
<circle cx="1146.7" cy="801.9" r="5.4"/>
<circle cx="1141.0" cy="809.2" r="5.4"/>
<circle cx="1161.6" cy="809.2" r="5.4"/>
<circle cx="1150.0" cy="813.5" r="5.4"/>
<circle cx="1143.9" cy="824.5" r="5.4"/>
<circle cx="1149.1" cy="824.5" r="5.4"/>
<circle cx="1155.6" cy="835.4" r="5.4"/>
<circle cx="1136.1" cy="839.3" r="5.4"/>
<circle cx="1152.4" cy="851.0" r="5.4"/>
<circle cx="1160.9" cy="851.0" r="5.4"/>
<circle cx="1133.2" cy="858.1" r="5.4"/>
<circle cx="1152.4" cy="858.8" r="5.4"/>
<circle cx="1160.9" cy="858.8" r="5.4"/>
<circle cx="1136.1" cy="863.1" r="5.4"/>
<circle cx="1142.5" cy="869.4" r="5.4"/>
<circle cx="1157.3" cy="869.4" r="5.4"/>
<circle cx="1142.5" cy="875.8" r="5.4"/>
<circle cx="1165.1" cy="874.4" r="5.4"/>
<circle cx="1133.5" cy="881.2" r="5.4"/>
<circle cx="1146.7" cy="881.2" r="5.4"/>
<circle cx="1153.1" cy="881.5" r="5.4"/>
<circle cx="1165.1" cy="882.2" r="5.4"/>
<circle cx="1165.8" cy="887.1" r="5.4"/>
<circle cx="1141.0" cy="892.8" r="5.4"/>
<circle cx="1150.9" cy="892.8" r="5.4"/>
<circle cx="1165.5" cy="892.8" r="5.4"/>
<circle cx="1145.3" cy="904.1" r="5.4"/>
<circle cx="1153.8" cy="904.8" r="5.4"/>
<circle cx="1159.4" cy="904.1" r="5.4"/>
<circle cx="1164.4" cy="904.1" r="5.4"/>
<circle cx="1138.2" cy="922.8" r="5.4"/>
<circle cx="1151.9" cy="922.8" r="5.4"/>
<circle cx="1152.8" cy="934.6" r="5.4"/>
<circle cx="1158.0" cy="942.1" r="5.4"/>
<circle cx="1157.3" cy="872.2" r="5.4"/>
<circle cx="1160.4" cy="880.5" r="5.4"/>
<circle cx="1148.9" cy="875.3" r="5.4"/>
</g>
<g fill="#1b9e77">
<circle cx="950.3" cy="1320.4" r="5.5"/>
<circle cx="931.0" cy="1365.6" r="5.5"/>
<circle cx="920.4" cy="1377.0" r="5.5"/>
<circle cx="921.9" cy="1392.6" r="5.5"/>
<circle cx="944.7" cy="1392.2" r="5.5"/>
<circle cx="944.0" cy="1398.1" r="5.5"/>
<circle cx="950.6" cy="1403.2" r="5.5"/>
<circle cx="927.0" cy="1407.4" r="5.5"/>
<circle cx="930.7" cy="1406.9" r="5.5"/>
<circle cx="944.0" cy="1406.9" r="5.5"/>
<circle cx="938.8" cy="1411.4" r="5.5"/>
<circle cx="921.9" cy="1418.7" r="5.5"/>
<circle cx="947.7" cy="1422.4" r="5.5"/>
<circle cx="935.9" cy="1426.8" r="5.5"/>
<circle cx="941.8" cy="1430.5" r="5.5"/>
<circle cx="920.4" cy="1433.9" r="5.5"/>
<circle cx="924.5" cy="1435.0" r="5.5"/>
<circle cx="933.7" cy="1436.4" r="5.5"/>
<circle cx="923.1" cy="1442.3" r="5.5"/>
<circle cx="933.7" cy="1442.3" r="5.5"/>
<circle cx="949.6" cy="1450.4" r="5.5"/>
<circle cx="931.9" cy="1453.4" r="5.5"/>
<circle cx="929.2" cy="1458.6" r="5.5"/>
<circle cx="949.2" cy="1457.1" r="5.5"/>
<circle cx="940.3" cy="1460.0" r="5.5"/>
<circle cx="921.9" cy="1464.5" r="5.5"/>
<circle cx="931.9" cy="1464.5" r="5.5"/>
<circle cx="921.6" cy="1474.8" r="5.5"/>
<circle cx="929.2" cy="1475.5" r="5.5"/>
<circle cx="933.7" cy="1479.2" r="5.5"/>
<circle cx="918.6" cy="1482.9" r="5.5"/>
<circle cx="939.9" cy="1487.6" r="5.5"/>
<circle cx="931.2" cy="1494.4" r="5.5"/>
<circle cx="939.6" cy="1506.2" r="5.5"/>
<circle cx="930.7" cy="1528.9" r="5.5"/>
<circle cx="932.1" cy="1455.9" r="5.5"/>
<circle cx="934.6" cy="1464.3" r="5.5"/>
<circle cx="924.8" cy="1474.7" r="5.5"/>
</g>
<g fill="#d95f02">
<circle cx="1031.8" cy="1354.4" r="5.5"/>
<circle cx="1052.3" cy="1354.0" r="5.5"/>
<circle cx="1054.9" cy="1357.9" r="5.5"/>
<circle cx="1055.6" cy="1381.3" r="5.5"/>
<circle cx="1059.5" cy="1381.3" r="5.5"/>
<circle cx="1027.0" cy="1388.7" r="5.5"/>
<circle cx="1050.4" cy="1392.3" r="5.5"/>
<circle cx="1056.9" cy="1392.3" r="5.5"/>
<circle cx="1059.1" cy="1404.0" r="5.5"/>
<circle cx="1045.2" cy="1422.5" r="5.5"/>
<circle cx="1034.4" cy="1431.0" r="5.5"/>
<circle cx="1038.7" cy="1435.8" r="5.5"/>
<circle cx="1058.6" cy="1437.8" r="5.5"/>
<circle cx="1041.3" cy="1440.4" r="5.5"/>
<circle cx="1048.4" cy="1442.3" r="5.5"/>
<circle cx="1040.6" cy="1448.2" r="5.5"/>
<circle cx="1034.2" cy="1457.3" r="5.5"/>
<circle cx="1041.3" cy="1454.7" r="5.5"/>
<circle cx="1034.8" cy="1461.2" r="5.5"/>
<circle cx="1032.2" cy="1464.4" r="5.5"/>
<circle cx="1047.1" cy="1468.3" r="5.5"/>
<circle cx="1056.2" cy="1467.9" r="5.5"/>
<circle cx="1031.6" cy="1476.1" r="5.5"/>
<circle cx="1039.4" cy="1476.8" r="5.5"/>
<circle cx="1043.2" cy="1480.0" r="5.5"/>
<circle cx="1048.7" cy="1487.1" r="5.5"/>
<circle cx="1026.1" cy="1487.8" r="5.5"/>
<circle cx="1031.6" cy="1491.7" r="5.5"/>
<circle cx="1025.7" cy="1495.6" r="5.5"/>
<circle cx="1054.9" cy="1494.7" r="5.5"/>
<circle cx="1047.8" cy="1498.6" r="5.5"/>
<circle cx="1045.8" cy="1513.4" r="5.5"/>
<circle cx="1054.3" cy="1513.8" r="5.5"/>
<circle cx="1025.7" cy="1525.8" r="5.5"/>
<circle cx="1035.5" cy="1525.5" r="5.5"/>
<circle cx="1034.2" cy="1529.4" r="5.5"/>
<circle cx="1040.5" cy="1443.4" r="5.5"/>
<circle cx="1036.3" cy="1453.8" r="5.5"/>
<circle cx="1033.2" cy="1461.1" r="5.5"/>
<circle cx="1039.5" cy="1477.8" r="5.5"/>
<circle cx="1030.1" cy="1491.4" r="5.5"/>
</g>
<g fill="#7570b3">
<circle cx="1141.5" cy="1357.9" r="5.5"/>
<circle cx="1161.5" cy="1369.6" r="5.5"/>
<circle cx="1157.1" cy="1372.2" r="5.5"/>
<circle cx="1151.9" cy="1373.5" r="5.5"/>
<circle cx="1141.8" cy="1389.1" r="5.5"/>
<circle cx="1146.3" cy="1392.6" r="5.5"/>
<circle cx="1147.6" cy="1407.7" r="5.5"/>
<circle cx="1153.4" cy="1407.9" r="5.5"/>
<circle cx="1133.7" cy="1411.8" r="5.5"/>
<circle cx="1147.6" cy="1414.4" r="5.5"/>
<circle cx="1140.5" cy="1419.6" r="5.5"/>
<circle cx="1146.9" cy="1420.9" r="5.5"/>
<circle cx="1161.2" cy="1422.5" r="5.5"/>
<circle cx="1156.0" cy="1423.5" r="5.5"/>
<circle cx="1141.1" cy="1427.4" r="5.5"/>
<circle cx="1149.5" cy="1428.1" r="5.5"/>
<circle cx="1162.5" cy="1430.0" r="5.5"/>
<circle cx="1134.6" cy="1434.5" r="5.5"/>
<circle cx="1143.1" cy="1433.9" r="5.5"/>
<circle cx="1163.8" cy="1434.5" r="5.5"/>
<circle cx="1146.9" cy="1439.7" r="5.5"/>
<circle cx="1160.6" cy="1441.0" r="5.5"/>
<circle cx="1148.9" cy="1444.9" r="5.5"/>
<circle cx="1142.4" cy="1449.5" r="5.5"/>
<circle cx="1148.2" cy="1450.1" r="5.5"/>
<circle cx="1164.5" cy="1452.7" r="5.5"/>
<circle cx="1158.0" cy="1457.3" r="5.5"/>
<circle cx="1145.4" cy="1457.9" r="5.5"/>
<circle cx="1146.9" cy="1465.1" r="5.5"/>
<circle cx="1136.6" cy="1480.0" r="5.5"/>
<circle cx="1155.4" cy="1480.0" r="5.5"/>
<circle cx="1161.9" cy="1480.0" r="5.5"/>
<circle cx="1149.5" cy="1503.0" r="5.5"/>
<circle cx="1135.5" cy="1521.8" r="5.5"/>
<circle cx="1151.5" cy="1533.2" r="5.5"/>
<circle cx="1146.8" cy="1426.7" r="5.5"/>
<circle cx="1149.3" cy="1435.1" r="5.5"/>
<circle cx="1144.7" cy="1443.4" r="5.5"/>
<circle cx="1147.9" cy="1451.8" r="5.5"/>
<circle cx="1143.1" cy="1455.9" r="5.5"/>
<circle cx="1151.0" cy="1420.5" r="5.5"/>
</g>
<path d="M1240.9 188.3 V244.4 M1240.9 296.7 V342.7" style="stroke:#2e2e2e;stroke-width:2.5;fill:none"/>
<path d="M1234.0 188.3 H1247.8000000000002 M1234.0 342.7 H1247.8000000000002" style="stroke:#2e2e2e;stroke-width:3.0;fill:none;stroke-linecap:round"/>
<rect x="1223.80" y="244.80" width="34.20" height="51.50" fill="#1b9e77" style="stroke:#2e2e2e;stroke-width:2.8;stroke-linejoin:round"/>
<path d="M1223.8000000000002 269.2 H1258.0" style="stroke:#2e2e2e;stroke-width:5.0;fill:none"/>
<path d="M1308.2 188.3 V251.9 M1308.2 320.0 V354.7" style="stroke:#2e2e2e;stroke-width:2.5;fill:none"/>
<path d="M1301.3 188.3 H1315.1000000000001 M1301.3 354.7 H1315.1000000000001" style="stroke:#2e2e2e;stroke-width:3.0;fill:none;stroke-linecap:round"/>
<rect x="1291.10" y="252.30" width="34.20" height="67.30" fill="#d95f02" style="stroke:#2e2e2e;stroke-width:2.8;stroke-linejoin:round"/>
<path d="M1291.1000000000001 279.0 H1325.3" style="stroke:#2e2e2e;stroke-width:5.0;fill:none"/>
<path d="M1375.8 157.7 V229.7 M1375.8 291.8 V347.3" style="stroke:#2e2e2e;stroke-width:2.5;fill:none"/>
<path d="M1368.8999999999999 157.7 H1382.7 M1368.8999999999999 347.3 H1382.7" style="stroke:#2e2e2e;stroke-width:3.0;fill:none;stroke-linecap:round"/>
<rect x="1358.70" y="230.10" width="34.20" height="61.30" fill="#7570b3" style="stroke:#2e2e2e;stroke-width:2.8;stroke-linejoin:round"/>
<path d="M1358.7 259.8 H1392.8999999999999" style="stroke:#2e2e2e;stroke-width:5.0;fill:none"/>
<path d="M1240.9 779.4 V835.8 M1240.9 888.5 V931.2" style="stroke:#2e2e2e;stroke-width:2.5;fill:none"/>
<path d="M1234.0 779.4 H1247.8000000000002 M1234.0 931.2 H1247.8000000000002" style="stroke:#2e2e2e;stroke-width:3.0;fill:none;stroke-linecap:round"/>
<rect x="1223.80" y="836.20" width="34.20" height="51.90" fill="#1b9e77" style="stroke:#2e2e2e;stroke-width:2.8;stroke-linejoin:round"/>
<path d="M1223.8000000000002 856.0 H1258.0" style="stroke:#2e2e2e;stroke-width:5.0;fill:none"/>
<path d="M1308.2 794.1 V844.0 M1308.2 906.1 V942.9" style="stroke:#2e2e2e;stroke-width:2.5;fill:none"/>
<path d="M1301.3 794.1 H1315.1000000000001 M1301.3 942.9 H1315.1000000000001" style="stroke:#2e2e2e;stroke-width:3.0;fill:none;stroke-linecap:round"/>
<rect x="1291.10" y="844.40" width="34.20" height="61.30" fill="#d95f02" style="stroke:#2e2e2e;stroke-width:2.8;stroke-linejoin:round"/>
<path d="M1291.1000000000001 869.9 H1325.3" style="stroke:#2e2e2e;stroke-width:5.0;fill:none"/>
<path d="M1375.8 794.1 V842.0 M1375.8 891.5 V942.9" style="stroke:#2e2e2e;stroke-width:2.5;fill:none"/>
<path d="M1368.8999999999999 794.1 H1382.7 M1368.8999999999999 942.9 H1382.7" style="stroke:#2e2e2e;stroke-width:3.0;fill:none;stroke-linecap:round"/>
<rect x="1358.70" y="842.40" width="34.20" height="48.70" fill="#7570b3" style="stroke:#2e2e2e;stroke-width:2.8;stroke-linejoin:round"/>
<path d="M1358.7 869.9 H1392.8999999999999" style="stroke:#2e2e2e;stroke-width:5.0;fill:none"/>
<path d="M1240.9 1366.2 V1408.2 M1240.9 1464.9 V1529.8" style="stroke:#2e2e2e;stroke-width:2.5;fill:none"/>
<path d="M1234.0 1366.2 H1247.8000000000002 M1234.0 1529.8 H1247.8000000000002" style="stroke:#2e2e2e;stroke-width:3.0;fill:none;stroke-linecap:round"/>
<rect x="1223.80" y="1408.60" width="34.20" height="55.90" fill="#1b9e77" style="stroke:#2e2e2e;stroke-width:2.8;stroke-linejoin:round"/>
<path d="M1223.8000000000002 1437.8 H1258.0" style="stroke:#2e2e2e;stroke-width:5.0;fill:none"/>
<path d="M1308.2 1354.8 V1424.6 M1308.2 1488.0 V1529.8" style="stroke:#2e2e2e;stroke-width:2.5;fill:none"/>
<path d="M1301.3 1354.8 H1315.1000000000001 M1301.3 1529.8 H1315.1000000000001" style="stroke:#2e2e2e;stroke-width:3.0;fill:none;stroke-linecap:round"/>
<rect x="1291.10" y="1425.00" width="34.20" height="62.60" fill="#d95f02" style="stroke:#2e2e2e;stroke-width:2.8;stroke-linejoin:round"/>
<path d="M1291.1000000000001 1459.3 H1325.3" style="stroke:#2e2e2e;stroke-width:5.0;fill:none"/>
<path d="M1375.8 1389.6 V1419.6 M1375.8 1450.2 V1480.5" style="stroke:#2e2e2e;stroke-width:2.5;fill:none"/>
<path d="M1368.8999999999999 1389.6 H1382.7 M1368.8999999999999 1480.5 H1382.7" style="stroke:#2e2e2e;stroke-width:3.0;fill:none;stroke-linecap:round"/>
<rect x="1358.70" y="1420.00" width="34.20" height="29.80" fill="#7570b3" style="stroke:#2e2e2e;stroke-width:2.8;stroke-linejoin:round"/>
<path d="M1358.7 1431.3 H1392.8999999999999" style="stroke:#2e2e2e;stroke-width:5.0;fill:none"/>
<path class="dn" fill="#1b9e77" d="M1443.0 140.0 C1443.1 140.7 1443.0 141.2 1443.3 144.1 C1443.6 147.0 1444.2 153.2 1444.9 157.3 C1445.7 161.4 1446.7 165.2 1447.7 168.7 C1448.8 172.1 1449.3 173.4 1451.1 178.1 C1452.8 182.8 1455.9 191.3 1458.1 197.0 C1460.3 202.6 1461.5 208.2 1464.3 212.1 C1467.0 216.0 1470.9 217.9 1474.7 220.6 C1478.4 223.3 1482.5 225.8 1486.9 228.1 C1491.3 230.5 1496.7 232.2 1501.1 234.8 C1505.5 237.3 1510.0 240.3 1513.4 243.3 C1516.8 246.2 1519.3 249.8 1521.4 252.2 C1523.5 254.6 1525.0 255.1 1526.1 257.6 C1527.2 260.0 1528.0 263.8 1528.0 267.0 C1528.0 270.1 1527.4 273.3 1526.1 276.4 C1524.9 279.6 1522.7 282.9 1520.5 285.9 C1518.3 288.9 1515.4 291.9 1512.9 294.4 C1510.4 296.9 1507.9 299.0 1505.3 301.0 C1502.8 303.0 1500.2 304.5 1497.3 306.2 C1494.4 307.9 1491.2 309.4 1487.9 311.4 C1484.6 313.3 1480.8 315.8 1477.5 318.0 C1474.2 320.2 1471.0 322.1 1468.1 324.6 C1465.1 327.1 1462.1 330.1 1459.6 333.1 C1457.0 336.1 1454.8 339.4 1452.9 342.5 C1451.1 345.7 1449.5 348.5 1448.2 352.0 C1447.0 355.4 1446.1 359.4 1445.4 363.3 C1444.7 367.2 1444.3 371.7 1444.0 375.6 C1443.6 379.5 1443.3 382.9 1443.1 386.9 C1443.0 391.0 1443.0 397.8 1443.0 400.0 Z"/>
<path class="dn" fill="#d95f02" d="M1443.0 143.0 C1443.1 143.8 1443.1 145.2 1443.3 147.9 C1443.6 150.6 1443.9 155.7 1444.4 159.2 C1445.0 162.7 1445.9 165.5 1446.8 168.7 C1447.7 171.8 1448.5 173.8 1450.1 178.1 C1451.8 182.3 1454.5 188.6 1456.7 194.2 C1458.9 199.7 1460.7 205.3 1463.3 211.1 C1466.0 217.0 1469.3 223.6 1472.8 229.1 C1476.2 234.6 1480.2 240.1 1484.1 244.2 C1488.0 248.3 1492.9 251.1 1496.4 253.8 C1499.8 256.5 1502.6 257.9 1504.9 260.4 C1507.2 262.9 1509.0 266.2 1510.1 268.9 C1511.1 271.6 1511.3 273.6 1511.0 276.4 C1510.7 279.3 1509.4 282.9 1508.2 285.9 C1506.9 288.9 1504.9 291.5 1503.5 294.4 C1502.0 297.2 1500.6 300.2 1499.7 302.9 C1498.8 305.6 1498.3 307.9 1498.0 310.4 C1497.6 313.0 1497.9 315.6 1497.5 318.0 C1497.1 320.3 1496.7 322.2 1495.4 324.6 C1494.1 327.0 1492.0 329.6 1489.8 332.2 C1487.6 334.7 1485.0 337.2 1482.2 339.7 C1479.4 342.2 1475.9 344.7 1472.8 347.3 C1469.6 349.8 1466.2 352.3 1463.3 354.8 C1460.5 357.3 1458.0 359.9 1455.8 362.4 C1453.6 364.9 1451.7 367.4 1450.1 369.9 C1448.5 372.4 1447.3 375.0 1446.3 377.5 C1445.3 380.0 1444.7 382.4 1444.2 385.0 C1443.6 387.7 1443.3 390.4 1443.1 393.5 C1442.9 396.7 1443.0 402.3 1443.0 404.0 Z"/>
<path class="dn" fill="#7570b3" d="M1443.0 112.0 C1443.1 113.1 1443.1 115.9 1443.3 118.6 C1443.5 121.3 1443.5 125.1 1444.0 128.1 C1444.4 131.0 1445.0 133.6 1445.9 136.5 C1446.7 139.5 1447.8 142.7 1449.2 146.0 C1450.5 149.3 1452.2 152.9 1453.9 156.4 C1455.6 159.8 1457.5 163.1 1459.6 166.8 C1461.6 170.4 1464.0 174.5 1466.2 178.1 C1468.4 181.7 1470.9 185.0 1472.8 188.5 C1474.7 191.9 1476.1 195.3 1477.5 198.9 C1478.9 202.5 1480.2 206.7 1481.3 210.2 C1482.4 213.7 1483.2 216.7 1484.1 219.6 C1485.0 222.6 1486.0 225.3 1486.9 228.1 C1487.9 231.0 1488.8 233.7 1489.8 236.6 C1490.7 239.6 1491.8 243.9 1492.6 246.1 C1493.4 248.3 1493.9 248.4 1494.5 250.0 C1495.1 251.6 1496.1 253.3 1496.4 255.7 C1496.6 258.0 1496.4 261.2 1495.9 264.2 C1495.4 267.2 1494.7 270.3 1493.5 273.6 C1492.4 276.9 1490.4 280.7 1488.8 284.0 C1487.3 287.3 1485.5 290.3 1484.1 293.4 C1482.7 296.6 1481.3 299.9 1480.3 302.9 C1479.3 305.9 1478.6 308.5 1478.0 311.4 C1477.4 314.2 1477.1 317.2 1476.7 319.9 C1476.3 322.6 1476.3 324.6 1475.6 327.4 C1474.9 330.3 1474.2 333.6 1472.8 336.9 C1471.4 340.2 1469.2 344.0 1467.1 347.3 C1465.1 350.6 1462.7 353.7 1460.5 356.7 C1458.3 359.7 1455.9 362.5 1453.9 365.2 C1451.8 367.9 1449.7 370.2 1448.2 372.8 C1446.7 375.3 1445.7 377.6 1444.9 380.3 C1444.1 383.0 1443.6 385.5 1443.3 388.8 C1443.0 392.1 1443.1 398.1 1443.0 400.0 Z"/>
<path d="M1443.0 98.3 V408.4" style="stroke:#333;stroke-width:1.4;fill:none"/>
<path class="dn" fill="#1b9e77" d="M1443.0 735.0 C1443.1 736.0 1443.1 738.2 1443.3 741.1 C1443.6 744.0 1443.9 749.6 1444.4 752.4 C1445.0 755.3 1445.5 755.4 1446.8 758.1 C1448.1 760.8 1450.2 765.2 1452.0 768.5 C1453.8 771.8 1455.9 774.6 1457.7 777.9 C1459.4 781.2 1461.1 785.6 1462.4 788.3 C1463.6 791.0 1464.1 791.9 1465.2 794.0 C1466.3 796.0 1467.8 798.4 1469.0 800.6 C1470.2 802.8 1471.3 805.3 1472.3 807.2 C1473.3 809.1 1474.1 810.7 1475.1 811.9 C1476.2 813.1 1476.9 813.2 1478.4 814.3 C1479.9 815.4 1481.6 816.7 1484.1 818.5 C1486.6 820.3 1490.9 823.2 1493.5 825.1 C1496.2 827.1 1497.6 827.9 1500.2 830.0 C1502.8 832.1 1507.0 835.2 1509.2 838.0 C1511.5 840.9 1512.9 844.2 1513.7 847.1 C1514.5 849.9 1514.4 852.1 1514.0 855.1 C1513.7 858.1 1512.4 861.8 1511.7 865.1 C1511.0 868.4 1510.4 872.0 1509.7 875.1 C1509.0 878.3 1508.3 881.3 1507.4 884.2 C1506.5 887.0 1505.4 890.0 1504.4 892.2 C1503.4 894.4 1502.7 895.4 1501.2 897.2 C1499.7 899.0 1498.0 900.9 1495.2 903.2 C1492.3 905.6 1487.7 908.4 1484.1 911.2 C1480.6 914.1 1476.8 917.3 1473.6 920.3 C1470.4 923.3 1467.7 926.3 1465.1 929.3 C1462.5 932.3 1460.2 935.3 1458.1 938.3 C1455.9 941.3 1453.8 944.3 1452.1 947.4 C1450.3 950.4 1448.7 953.4 1447.5 956.4 C1446.3 959.4 1445.5 962.4 1444.8 965.4 C1444.2 968.4 1443.8 971.2 1443.5 974.4 C1443.2 977.7 1443.1 983.2 1443.0 985.0 Z"/>
<path class="dn" fill="#d95f02" d="M1443.0 695.0 C1443.1 696.4 1443.1 700.1 1443.3 703.3 C1443.6 706.6 1443.8 710.9 1444.4 714.7 C1445.1 718.4 1446.5 722.4 1447.1 726.0 C1447.7 729.6 1448.2 732.9 1448.2 736.4 C1448.2 739.8 1447.5 743.6 1447.1 746.8 C1446.6 749.9 1445.7 752.4 1445.6 755.3 C1445.4 758.1 1445.5 760.6 1446.1 763.8 C1446.7 766.9 1447.9 770.8 1449.2 774.2 C1450.5 777.5 1452.3 781.1 1453.9 783.6 C1455.5 786.1 1457.2 787.5 1458.6 789.3 C1460.0 791.0 1461.0 791.8 1462.4 794.0 C1463.8 796.2 1465.5 799.5 1467.1 802.5 C1468.7 805.5 1470.4 808.5 1471.8 811.9 C1473.2 815.4 1474.6 820.2 1475.6 823.3 C1476.7 826.3 1477.0 827.9 1478.1 830.0 C1479.3 832.1 1480.8 834.0 1482.6 836.0 C1484.5 838.0 1487.1 840.2 1489.2 842.0 C1491.3 843.9 1493.3 845.3 1495.2 847.1 C1497.0 848.8 1499.0 850.4 1500.2 852.6 C1501.4 854.7 1501.9 857.2 1502.4 860.1 C1502.9 863.0 1503.1 866.8 1503.2 870.1 C1503.3 873.5 1503.0 876.8 1502.8 880.2 C1502.6 883.5 1502.3 887.3 1502.2 890.2 C1502.1 893.0 1502.3 894.5 1502.0 897.2 C1501.7 899.9 1501.3 903.2 1500.2 906.2 C1499.1 909.2 1497.4 912.2 1495.2 915.3 C1493.0 918.3 1490.2 921.3 1487.2 924.3 C1484.1 927.3 1480.5 930.5 1477.1 933.3 C1473.8 936.2 1470.3 938.7 1467.1 941.3 C1463.9 944.0 1460.7 946.7 1458.1 949.4 C1455.4 952.0 1452.9 954.9 1451.0 957.4 C1449.2 959.9 1448.1 961.9 1447.0 964.4 C1445.9 966.9 1445.1 969.6 1444.5 972.4 C1443.9 975.3 1443.7 978.5 1443.4 981.5 C1443.2 984.4 1443.1 988.6 1443.0 990.0 Z"/>
<path class="dn" fill="#7570b3" d="M1443.0 693.0 C1443.1 694.4 1443.0 697.8 1443.3 701.4 C1443.6 705.1 1443.9 710.6 1444.6 714.7 C1445.3 718.8 1446.8 722.4 1447.5 726.0 C1448.1 729.6 1448.6 732.9 1448.6 736.4 C1448.6 739.8 1447.9 743.6 1447.6 746.8 C1447.2 749.9 1446.4 752.4 1446.3 755.3 C1446.3 758.1 1446.4 760.6 1447.3 763.8 C1448.1 766.9 1449.9 770.8 1451.5 774.2 C1453.2 777.5 1455.2 780.8 1457.2 783.6 C1459.2 786.4 1461.3 788.9 1463.3 791.1 C1465.4 793.4 1467.8 795.0 1469.5 797.3 C1471.2 799.6 1472.6 802.4 1473.5 804.8 C1474.5 807.3 1474.8 809.5 1475.1 811.9 C1475.4 814.4 1475.3 817.1 1475.4 819.5 C1475.5 821.8 1475.5 824.3 1475.8 826.1 C1476.1 827.8 1476.3 828.5 1477.1 830.0 C1477.9 831.5 1479.0 833.2 1480.6 835.0 C1482.3 836.9 1484.9 839.2 1487.2 841.0 C1489.4 842.9 1491.8 844.1 1494.2 846.0 C1496.5 848.0 1498.4 850.7 1501.2 852.6 C1504.0 854.4 1508.1 855.3 1511.2 857.1 C1514.4 858.8 1517.8 861.1 1520.3 863.1 C1522.7 865.1 1524.6 867.3 1525.8 869.1 C1526.9 871.0 1527.4 872.3 1527.3 874.1 C1527.2 876.0 1526.4 878.1 1525.3 880.2 C1524.1 882.2 1522.3 884.3 1520.3 886.2 C1518.2 888.0 1515.7 889.7 1513.2 891.2 C1510.7 892.7 1507.9 893.7 1505.2 895.2 C1502.5 896.7 1499.9 898.4 1497.2 900.2 C1494.5 902.0 1492.0 904.1 1489.2 906.2 C1486.3 908.4 1483.1 910.7 1480.1 913.2 C1477.1 915.8 1474.0 918.4 1471.1 921.3 C1468.3 924.1 1465.6 927.3 1463.1 930.3 C1460.6 933.3 1458.2 936.3 1456.1 939.3 C1453.9 942.3 1451.7 945.3 1450.0 948.4 C1448.4 951.4 1447.0 954.4 1446.0 957.4 C1445.0 960.4 1444.5 963.4 1444.0 966.4 C1443.6 969.4 1443.4 972.3 1443.2 975.4 C1443.1 978.5 1443.0 983.4 1443.0 985.0 Z"/>
<path d="M1443.0 679.7 V999.0" style="stroke:#333;stroke-width:1.4;fill:none"/>
<path class="dn" fill="#1b9e77" d="M1443.0 1290.0 C1443.1 1292.3 1443.4 1298.4 1443.6 1303.9 C1443.7 1309.5 1443.9 1317.3 1444.0 1323.4 C1444.0 1329.6 1443.6 1336.9 1443.8 1340.9 C1443.9 1345.0 1444.1 1345.5 1444.7 1347.8 C1445.4 1350.0 1446.5 1352.1 1447.7 1354.6 C1448.8 1357.0 1450.1 1359.6 1451.6 1362.4 C1453.0 1365.1 1455.0 1368.5 1456.4 1371.1 C1457.8 1373.7 1459.1 1376.2 1459.8 1378.0 C1460.6 1379.7 1460.4 1380.5 1461.1 1381.8 C1461.8 1383.1 1463.0 1384.2 1464.2 1385.7 C1465.5 1387.3 1467.0 1389.0 1468.6 1391.1 C1470.2 1393.2 1472.4 1396.2 1473.9 1398.4 C1475.5 1400.6 1476.6 1402.2 1477.8 1404.2 C1479.1 1406.3 1480.4 1408.5 1481.3 1410.6 C1482.1 1412.7 1482.7 1414.9 1483.2 1416.9 C1483.7 1418.9 1483.9 1421.4 1484.2 1422.7 C1484.4 1424.1 1484.5 1423.0 1484.7 1425.0 C1484.8 1427.0 1485.0 1431.5 1485.1 1434.7 C1485.3 1438.0 1485.4 1441.4 1485.4 1444.5 C1485.4 1447.6 1485.4 1450.5 1485.1 1453.2 C1484.9 1456.0 1484.6 1458.6 1484.2 1461.0 C1483.8 1463.5 1483.6 1465.4 1482.7 1467.8 C1481.8 1470.3 1480.4 1472.9 1478.8 1475.6 C1477.2 1478.4 1475.1 1481.5 1473.0 1484.4 C1470.9 1487.3 1468.3 1490.2 1466.2 1493.2 C1464.0 1496.1 1462.3 1499.0 1460.3 1501.9 C1458.4 1504.8 1456.0 1507.9 1454.5 1510.7 C1452.9 1513.4 1451.9 1515.7 1451.1 1518.5 C1450.2 1521.2 1450.1 1524.3 1449.4 1527.2 C1448.7 1530.2 1447.5 1533.2 1446.7 1536.0 C1445.8 1538.8 1444.8 1541.2 1444.3 1543.8 C1443.7 1546.4 1443.6 1548.9 1443.4 1551.6 C1443.2 1554.3 1443.1 1558.6 1443.0 1560.0 Z"/>
<path class="dn" fill="#d95f02" d="M1443.0 1285.0 C1443.1 1286.5 1443.3 1289.4 1443.6 1294.2 C1443.9 1299.0 1444.1 1308.0 1444.7 1313.7 C1445.3 1319.4 1446.2 1323.9 1447.2 1328.3 C1448.1 1332.7 1449.4 1336.2 1450.6 1340.0 C1451.8 1343.7 1453.3 1347.3 1454.5 1350.7 C1455.7 1354.1 1456.8 1357.3 1457.9 1360.4 C1458.9 1363.5 1460.1 1367.1 1460.8 1369.2 C1461.5 1371.3 1462.3 1371.5 1462.3 1373.1 C1462.3 1374.7 1461.4 1377.0 1460.8 1378.9 C1460.2 1380.9 1459.3 1382.8 1458.9 1384.8 C1458.5 1386.7 1458.3 1388.8 1458.4 1390.6 C1458.5 1392.4 1458.9 1393.7 1459.3 1395.5 C1459.8 1397.3 1460.5 1399.0 1461.1 1401.3 C1461.7 1403.6 1462.0 1406.4 1462.8 1409.1 C1463.5 1411.9 1464.6 1415.3 1465.7 1417.9 C1466.7 1420.5 1467.7 1421.9 1469.1 1424.7 C1470.5 1427.5 1472.5 1431.4 1473.9 1434.7 C1475.4 1438.0 1476.7 1441.6 1477.8 1444.5 C1479.0 1447.4 1480.0 1449.8 1480.8 1452.3 C1481.6 1454.7 1482.3 1456.5 1482.7 1459.1 C1483.2 1461.7 1483.4 1464.9 1483.5 1467.8 C1483.6 1470.8 1483.5 1473.7 1483.2 1476.6 C1482.9 1479.5 1482.5 1482.6 1481.7 1485.4 C1481.0 1488.1 1480.1 1490.4 1478.8 1493.2 C1477.5 1495.9 1475.6 1499.2 1473.9 1501.9 C1472.3 1504.7 1470.7 1507.0 1469.1 1509.7 C1467.5 1512.5 1465.8 1515.6 1464.2 1518.5 C1462.6 1521.4 1461.0 1524.5 1459.3 1527.2 C1457.7 1530.0 1455.9 1532.6 1454.5 1535.0 C1453.0 1537.5 1451.8 1539.4 1450.6 1541.8 C1449.4 1544.3 1448.1 1547.0 1447.2 1549.6 C1446.2 1552.2 1445.3 1554.8 1444.7 1557.4 C1444.1 1560.0 1443.9 1562.8 1443.6 1565.2 C1443.3 1567.6 1443.1 1570.9 1443.0 1572.0 Z"/>
<path class="dn" fill="#7570b3" d="M1443.0 1330.0 C1443.1 1331.5 1443.1 1336.2 1443.6 1339.0 C1444.0 1341.8 1444.5 1344.0 1445.7 1346.8 C1446.9 1349.6 1448.9 1352.6 1450.6 1355.6 C1452.3 1358.5 1454.3 1361.6 1455.9 1364.3 C1457.5 1367.0 1459.2 1369.8 1460.1 1371.6 C1461.0 1373.4 1461.4 1373.6 1461.5 1375.0 C1461.6 1376.4 1461.1 1378.0 1460.9 1379.9 C1460.7 1381.8 1460.4 1384.0 1460.3 1386.7 C1460.3 1389.5 1460.3 1394.0 1460.5 1396.5 C1460.7 1398.9 1460.4 1399.9 1461.5 1401.3 C1462.6 1402.8 1465.1 1404.1 1467.1 1405.2 C1469.2 1406.4 1471.5 1407.2 1473.9 1408.1 C1476.4 1409.1 1478.5 1409.9 1481.7 1411.1 C1485.0 1412.2 1489.5 1413.7 1493.4 1415.0 C1497.3 1416.2 1501.2 1417.5 1505.1 1418.8 C1509.0 1420.1 1513.6 1421.5 1516.8 1422.7 C1520.0 1424.0 1522.2 1425.0 1524.1 1426.1 C1526.0 1427.3 1527.9 1428.6 1528.3 1429.9 C1528.7 1431.1 1527.7 1432.5 1526.5 1433.8 C1525.3 1435.0 1523.4 1435.9 1521.2 1437.2 C1518.9 1438.5 1515.9 1440.1 1512.9 1441.6 C1509.9 1443.0 1506.4 1444.5 1503.2 1445.9 C1499.9 1447.4 1496.3 1449.1 1493.4 1450.3 C1490.5 1451.5 1488.1 1452.1 1485.6 1453.2 C1483.2 1454.4 1481.1 1455.8 1478.8 1457.1 C1476.5 1458.4 1474.1 1459.7 1472.0 1461.0 C1469.9 1462.3 1467.7 1463.5 1466.2 1464.9 C1464.6 1466.4 1463.5 1468.2 1462.8 1469.8 C1462.0 1471.4 1462.1 1472.9 1461.8 1474.7 C1461.5 1476.4 1461.5 1478.7 1460.8 1480.5 C1460.1 1482.3 1458.6 1483.6 1457.4 1485.4 C1456.2 1487.2 1454.6 1489.3 1453.5 1491.2 C1452.4 1493.2 1451.2 1495.1 1450.6 1497.1 C1449.9 1499.0 1449.7 1500.8 1449.6 1502.9 C1449.5 1505.0 1449.6 1507.6 1449.8 1509.7 C1450.0 1511.8 1450.4 1513.8 1450.6 1515.6 C1450.8 1517.3 1451.0 1518.5 1450.9 1520.4 C1450.7 1522.4 1450.2 1524.8 1449.6 1527.2 C1449.0 1529.7 1448.0 1532.6 1447.2 1535.0 C1446.4 1537.5 1445.3 1539.7 1444.7 1541.8 C1444.1 1544.0 1443.9 1545.5 1443.6 1547.7 C1443.3 1549.9 1443.1 1553.8 1443.0 1555.0 Z"/>
<path d="M1443.0 1267.9 V1589.1" style="stroke:#333;stroke-width:1.4;fill:none"/>
<rect x="820.0" y="62.5" width="5.78" height="3.0" fill="#fff"/>
<rect x="828.09" y="62.5" width="4.91" height="3.0" fill="#fff"/>
<rect x="820.0" y="653.5" width="5.78" height="3.0" fill="#fff"/>
<rect x="828.09" y="653.5" width="4.91" height="3.0" fill="#fff"/>
<rect x="820.0" y="1247.5" width="5.78" height="3.0" fill="#fff"/>
<rect x="828.09" y="1247.5" width="4.91" height="3.0" fill="#fff"/>
<rect x="791.5" y="251.0" width="4.0" height="6.51" fill="#fff"/>
<rect x="791.5" y="260.49" width="4.0" height="7.51" fill="#fff"/>
</svg></body></html>
